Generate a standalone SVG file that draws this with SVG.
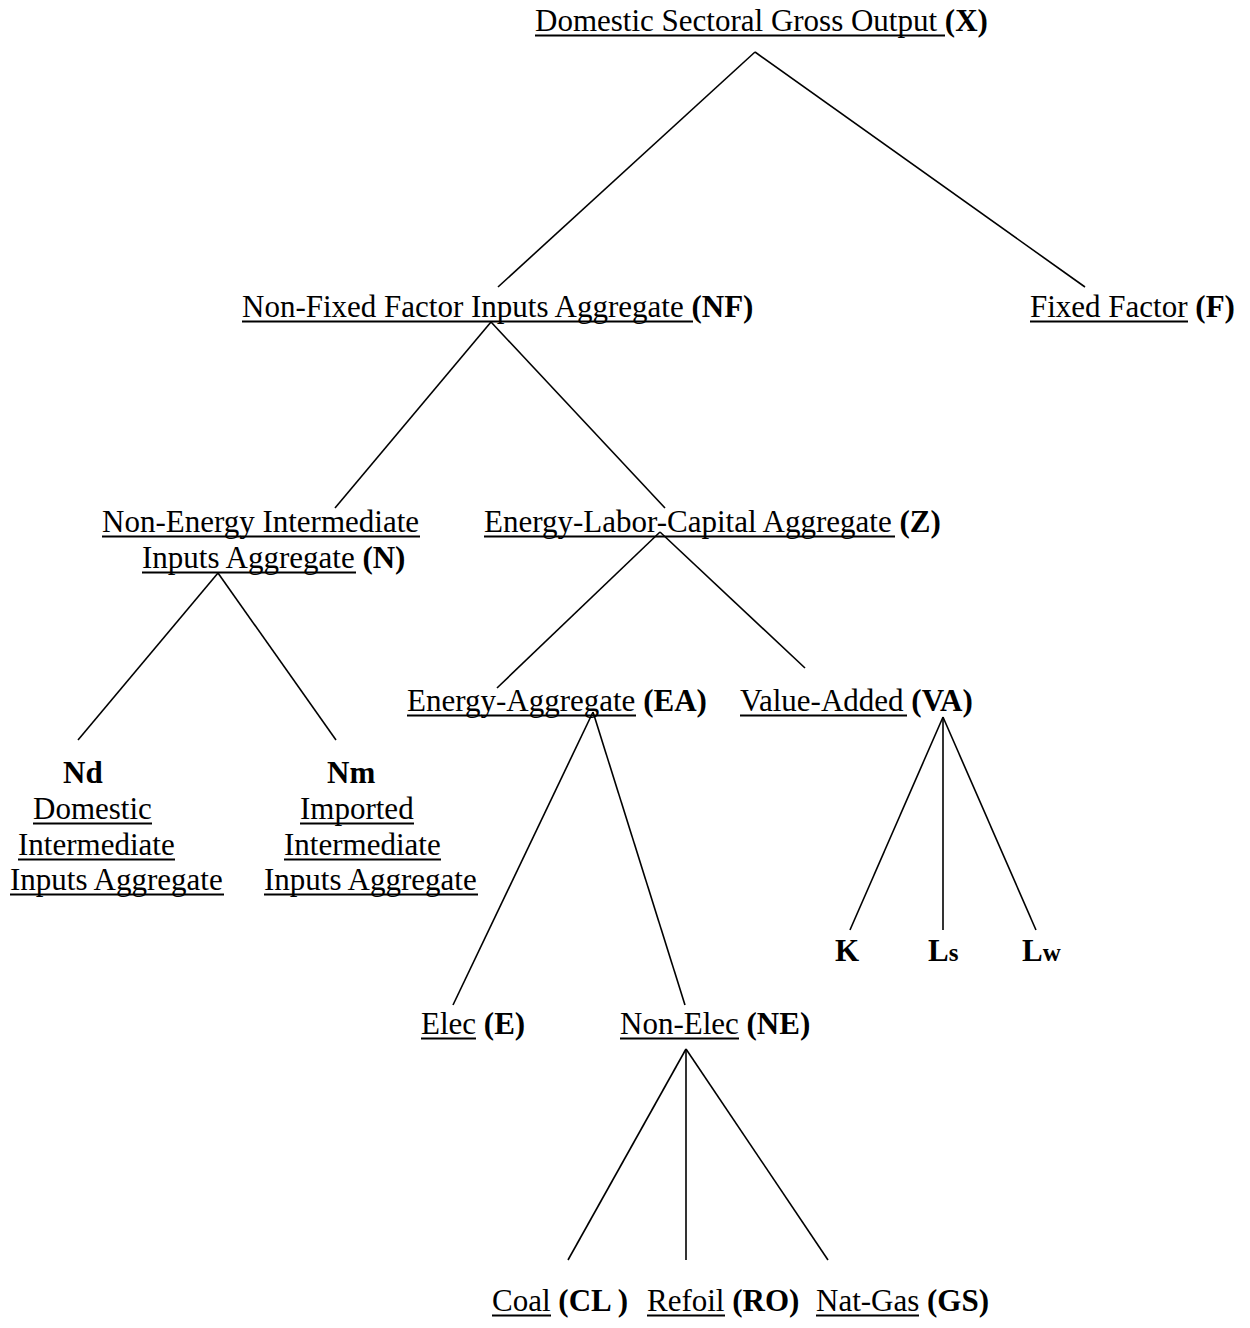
<svg xmlns="http://www.w3.org/2000/svg" width="1250" height="1328" viewBox="0 0 1250 1328">
  <style>
    text { font-family: "Liberation Serif", "Times New Roman", serif; font-size: 31px; fill: #000; }
    .b { font-weight: bold; }
    .sm { font-size: 25px; }
    .ul { stroke: #000; stroke-width: 1.8; }
    #connectors line { stroke: #000; stroke-width: 1.6; stroke-linecap: butt; }
  </style>
  <rect width="1250" height="1328" fill="#fff"/>

  <!-- tree branches -->
  <g id="connectors">
    <line x1="755" y1="52" x2="498" y2="287"/>
    <line x1="755" y1="52" x2="1085" y2="287"/>
    <line x1="491" y1="322" x2="335" y2="508"/>
    <line x1="491" y1="322" x2="665" y2="508"/>
    <line x1="218" y1="573" x2="78" y2="740"/>
    <line x1="218" y1="573" x2="336" y2="740"/>
    <line x1="660" y1="532" x2="497" y2="688"/>
    <line x1="660" y1="532" x2="805" y2="668"/>
    <line x1="593" y1="712" x2="453" y2="1005"/>
    <line x1="593" y1="712" x2="685" y2="1005"/>
    <line x1="943" y1="717" x2="850" y2="930"/>
    <line x1="943" y1="717" x2="943" y2="930"/>
    <line x1="943" y1="717" x2="1036" y2="930"/>
    <line x1="686" y1="1049" x2="568" y2="1260"/>
    <line x1="686" y1="1049" x2="686" y2="1260"/>
    <line x1="686" y1="1049" x2="828" y2="1260"/>
  </g>

  <g id="node-X">
    <text x="535" y="31">Domestic Sectoral Gross Output <tspan class="b">(X)</tspan></text>
    <line class="ul" x1="535" y1="35.5" x2="945" y2="35.5"/>
  </g>

  <g id="node-NF">
    <text x="242" y="317">Non-Fixed Factor Inputs Aggregate <tspan class="b">(NF)</tspan></text>
    <line class="ul" x1="242" y1="321.5" x2="693" y2="321.5"/>
  </g>

  <g id="node-F">
    <text x="1030" y="317">Fixed Factor <tspan class="b">(F)</tspan></text>
    <line class="ul" x1="1030" y1="321.5" x2="1188" y2="321.5"/>
  </g>

  <g id="node-N">
    <text x="102" y="532">Non-Energy Intermediate</text>
    <line class="ul" x1="102" y1="536.5" x2="420" y2="536.5"/>
    <text x="142" y="568">Inputs Aggregate <tspan class="b">(N)</tspan></text>
    <line class="ul" x1="142" y1="572.5" x2="356" y2="572.5"/>
  </g>

  <g id="node-Z">
    <text x="484" y="532">Energy-Labor-Capital Aggregate <tspan class="b">(Z)</tspan></text>
    <line class="ul" x1="484" y1="536.5" x2="895" y2="536.5"/>
  </g>

  <g id="node-Nd">
    <text x="63" y="783" class="b">Nd</text>
    <text x="33" y="819">Domestic</text>
    <line class="ul" x1="33" y1="823.5" x2="152" y2="823.5"/>
    <text x="18" y="855">Intermediate</text>
    <line class="ul" x1="18" y1="859.5" x2="175" y2="859.5"/>
    <text x="10" y="890">Inputs Aggregate</text>
    <line class="ul" x1="10" y1="894.5" x2="224" y2="894.5"/>
  </g>

  <g id="node-Nm">
    <text x="327" y="783" class="b">Nm</text>
    <text x="300" y="819">Imported</text>
    <line class="ul" x1="300" y1="823.5" x2="414" y2="823.5"/>
    <text x="284" y="855">Intermediate</text>
    <line class="ul" x1="284" y1="859.5" x2="441" y2="859.5"/>
    <text x="264" y="890">Inputs Aggregate</text>
    <line class="ul" x1="264" y1="894.5" x2="478" y2="894.5"/>
  </g>

  <g id="node-EA">
    <text x="407" y="711">Energy-Aggregate <tspan class="b">(EA)</tspan></text>
    <line class="ul" x1="407" y1="715.5" x2="636" y2="715.5"/>
  </g>

  <g id="node-VA">
    <text x="740" y="711">Value-Added <tspan class="b">(VA)</tspan></text>
    <line class="ul" x1="740" y1="715.5" x2="907" y2="715.5"/>
  </g>

  <g id="node-K">
    <text x="835" y="961" class="b">K</text>
  </g>
  <g id="node-Ls">
    <text x="928" y="961" class="b">L<tspan class="sm">s</tspan></text>
  </g>
  <g id="node-Lw">
    <text x="1022" y="961" class="b">L<tspan class="sm">w</tspan></text>
  </g>

  <g id="node-E">
    <text x="421" y="1034">Elec <tspan class="b">(E)</tspan></text>
    <line class="ul" x1="421" y1="1038.5" x2="476" y2="1038.5"/>
  </g>

  <g id="node-NE">
    <text x="620" y="1034">Non-Elec <tspan class="b">(NE)</tspan></text>
    <line class="ul" x1="620" y1="1038.5" x2="739" y2="1038.5"/>
  </g>

  <g id="node-CL">
    <text x="492" y="1311">Coal <tspan class="b">(CL )</tspan></text>
    <line class="ul" x1="492" y1="1315.5" x2="551" y2="1315.5"/>
  </g>

  <g id="node-RO">
    <text x="647" y="1311">Refoil <tspan class="b">(RO)</tspan></text>
    <line class="ul" x1="647" y1="1315.5" x2="725" y2="1315.5"/>
  </g>

  <g id="node-GS">
    <text x="816" y="1311">Nat-Gas <tspan class="b">(GS)</tspan></text>
    <line class="ul" x1="816" y1="1315.5" x2="919" y2="1315.5"/>
  </g>
</svg>
